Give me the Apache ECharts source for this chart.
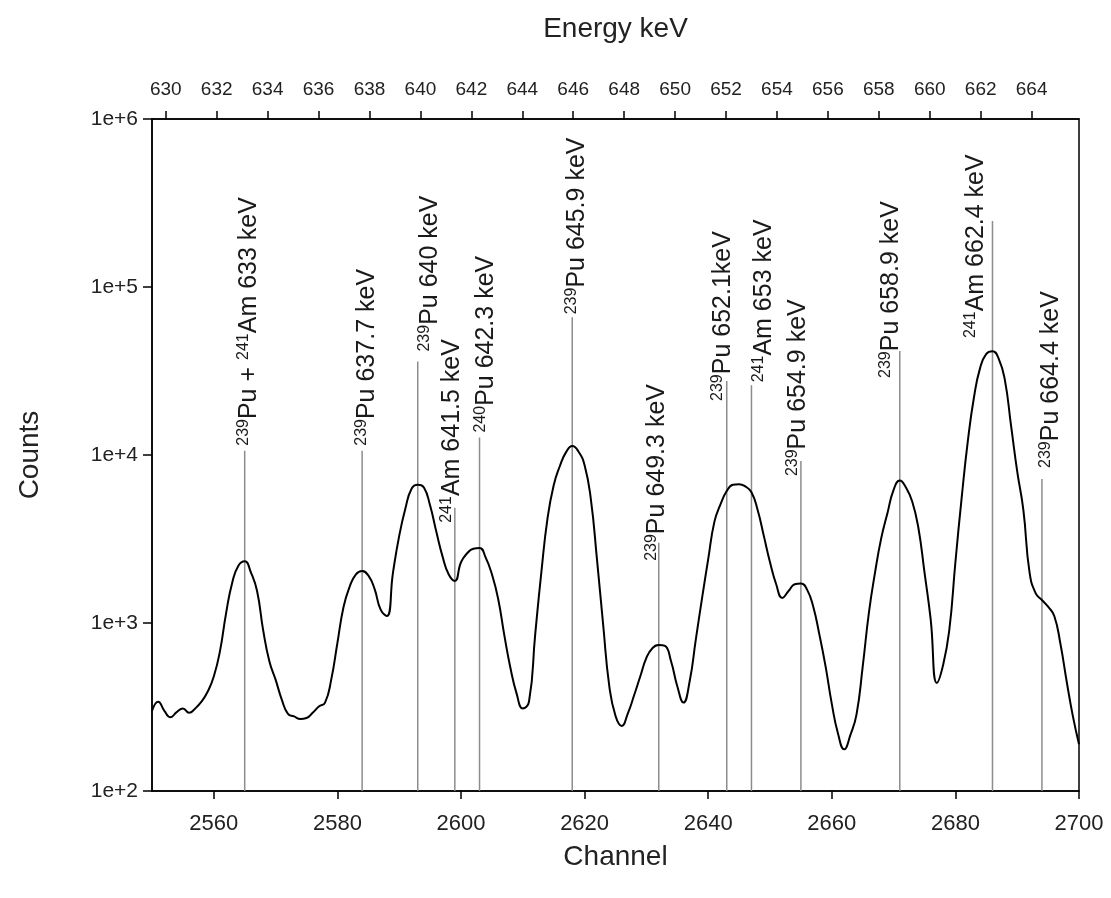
<!DOCTYPE html>
<html>
<head>
<meta charset="utf-8">
<title>Gamma spectrum 630-665 keV</title>
<script src="https://cdn.jsdelivr.net/npm/echarts@6/dist/echarts.min.js"></script>
<style>
html, body { margin: 0; padding: 0; background: #fff; }
#chart { width: 1111px; height: 898px; }
</style>
</head>
<body>
<div id="chart"></div>
<script>
// spectrum, one value per channel starting at 2550
var firstChannel = 2550;
var counts = [
  300, 340, 300, 275, 295, 310, 292, 310, 340, 390,
  480, 680, 1150, 1750, 2200, 2330, 2000, 1550, 900, 590,
  460, 350, 288, 278, 268, 272, 292, 318, 336, 460,
  760, 1250, 1650, 1950, 2040, 1920, 1600, 1200, 1100, 2000,
  3300, 4800, 6300, 6650, 6400, 5000, 3500, 2500, 1950, 1780,
  2300, 2600, 2770, 2800, 2450, 1950, 1400, 850, 540, 380,
  310, 340, 850, 2000, 4200, 6600, 8600, 10400, 11300, 10500,
  8700, 5500, 2400, 980, 420, 280, 244, 290, 370, 480,
  620, 710, 740, 730, 590, 420, 336, 450, 800, 1400,
  2400, 4000, 5100, 6100, 6650, 6700, 6500, 6000, 4700, 3300,
  2300, 1700, 1410, 1550, 1700, 1720, 1580, 1250, 850, 550,
  330, 220, 177, 215, 286, 550, 1150, 2000, 3200, 4500,
  6200, 7050, 6400, 5300, 3700, 2000, 1050, 440, 560, 900,
  2300, 5500, 12000, 22000, 33000, 40000, 41500, 37500, 28000, 15000,
  8000, 4700, 2000, 1500, 1370, 1250, 1100, 750, 450, 280,
  190
];

// peak markers: channel, height of the marker line, label
var peakChannels = [2565, 2584, 2593, 2599, 2603, 2618, 2632, 2643, 2647, 2655, 2671, 2686, 2694];
var peakTops = [10600, 10600, 36000, 4850, 12700, 66000, 3000, 27600, 26000, 9200, 41600, 247000, 7200];
var peakLabels = [
  '{s|239}Pu + {s|241}Am 633 keV',
  '{s|239}Pu 637.7 keV',
  '{s|239}Pu 640 keV',
  '{s|241}Am 641.5 keV',
  '{s|240}Pu 642.3 keV',
  '{s|239}Pu 645.9 keV',
  '{s|239}Pu 649.3 keV',
  '{s|239}Pu 652.1keV',
  '{s|241}Am 653 keV',
  '{s|239}Pu 654.9 keV',
  '{s|239}Pu 658.9 keV',
  '{s|241}Am 662.4 keV',
  '{s|239}Pu 664.4 keV'
];

// tick labels
var channelTicks = [2560, 2580, 2600, 2620, 2640, 2660, 2680, 2700];
var energyTicks = [630, 632, 634, 636, 638, 640, 642, 644, 646, 648, 650, 652, 654, 656, 658, 660, 662, 664];
var countTicks = [1e2, 1e3, 1e4, 1e5, 1e6];

// where each label sits relative to the top of its line (px)
var labelShift = [[4, -5], [5, -5], [12, -10], [-3, 15], [7, -5], [5, -3], [-2, 18],
  [-4, 20], [13, -3], [-3, 15], [-9, 27], [-16, 117], [9, -11]];

var spectrum = counts.map(function (v, i) { return [firstChannel + i, v]; });
var markers = peakChannels.map(function (c, i) { return [c, peakTops[i], i]; });

var font = '"Liberation Sans", Arial, sans-serif';
var chart = echarts.init(document.getElementById('chart'));
var option = {
  animation: false,
  grid: {
    left: 152, right: 32, top: 119, bottom: 107,
    show: true, borderColor: '#000', borderWidth: 1.5
  },
  xAxis: [
    {
      type: 'value', position: 'bottom',
      min: 2550, max: 2700,
      name: 'Channel', nameLocation: 'middle', nameGap: 52,
      nameTextStyle: { fontSize: 28, fontFamily: font, color: '#222' },
      axisLine: { lineStyle: { color: '#000', width: 1.5 } },
      axisTick: { length: 8, lineStyle: { color: '#000', width: 1.5 }, customValues: channelTicks },
      axisLabel: {
        fontSize: 22, fontFamily: font, color: '#222', margin: 22, customValues: channelTicks,
        formatter: function (v) { return String(v); }
      },
      splitLine: { show: false }
    },
    {
      type: 'value', position: 'top',
      min: 629.46, max: 665.86,
      name: 'Energy keV', nameLocation: 'middle', nameGap: 76,
      nameTextStyle: { fontSize: 28, fontFamily: font, color: '#222' },
      axisLine: { lineStyle: { color: '#000', width: 1.5 } },
      axisTick: { length: 8, lineStyle: { color: '#000', width: 1.5 }, customValues: energyTicks },
      axisLabel: {
        fontSize: 19, fontFamily: font, color: '#222', margin: 20, customValues: energyTicks,
        formatter: function (v) { return String(v); }
      },
      splitLine: { show: false }
    }
  ],
  yAxis: {
    type: 'log', logBase: 10, min: 100, max: 1e6,
    name: 'Counts', nameLocation: 'middle', nameGap: 108,
    nameTextStyle: { fontSize: 28, fontFamily: font, color: '#222' },
    axisLine: { lineStyle: { color: '#000', width: 1.5 } },
    axisTick: { length: 9, lineStyle: { color: '#000', width: 1.5 }, customValues: countTicks },
    axisLabel: {
      fontSize: 21, fontFamily: font, color: '#222', margin: 14, customValues: countTicks,
      formatter: function (v) { return '1e+' + Math.round(Math.log10(v)); }
    },
    minorTick: { show: false },
    splitLine: { show: false }
  },
  series: [
    {
      type: 'custom',
      z: 1,
      data: markers,
      renderItem: function (params, api) {
        var i = api.value(2);
        var top = api.coord([api.value(0), api.value(1)]);
        var base = api.coord([api.value(0), 100]);
        var shift = labelShift[i];
        return {
          type: 'group',
          children: [
            {
              type: 'line',
              shape: { x1: top[0], y1: top[1], x2: base[0], y2: base[1] },
              style: { stroke: '#8c8c8c', lineWidth: 1.5 }
            },
            {
              type: 'text',
              x: top[0] + shift[0],
              y: top[1] + shift[1],
              rotation: Math.PI / 2,
              style: {
                text: peakLabels[i],
                fontSize: 25, fontFamily: font, fill: '#1a1a1a',
                lineHeight: 27,
                align: 'left', verticalAlign: 'middle',
                rich: {
                  s: { fontSize: 16, fontFamily: font, fill: '#1a1a1a', lineHeight: 16, verticalAlign: 'top' }
                }
              }
            }
          ]
        };
      }
    },
    {
      type: 'line',
      z: 3,
      data: spectrum,
      smooth: 0.5,
      symbol: 'none',
      lineStyle: { color: '#000', width: 2 }
    }
  ]
};
chart.setOption(option);
</script>
</body>
</html>
